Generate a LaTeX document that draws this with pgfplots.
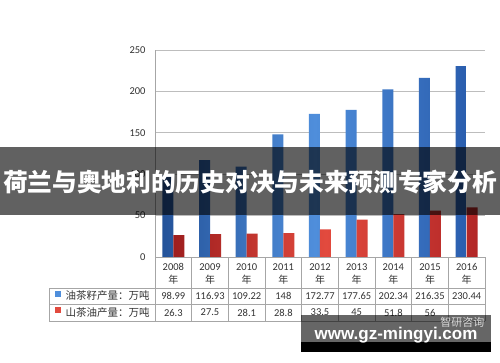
\documentclass[border=0pt]{standalone}
\usepackage{fontspec}
\setmainfont{Carlito}
\newfontfamily\cjk{Noto Sans CJK SC}
\newfontfamily\wm{Liberation Sans}
\usepackage{pgfplots}
\pgfplotsset{compat=1.18}
\definecolor{tx}{HTML}{333333}
\definecolor{gridc}{HTML}{BDBDBD}
\definecolor{tabc}{HTML}{A6A6A6}
\definecolor{bL}{HTML}{24539A}
\definecolor{bM}{HTML}{4F8EDB}
\definecolor{bR}{HTML}{2A5EAE}
\definecolor{rL}{HTML}{9E1E1E}
\definecolor{rM}{HTML}{E24A3E}
\definecolor{rR}{HTML}{B22626}
\begin{document}
\begin{tikzpicture}
\useasboundingbox (0pt,0pt) rectangle (500pt,362pt);
\fill[white] (0pt,0pt) rectangle (500pt,362pt);
\begin{axis}[
  at={(155pt,105pt)}, anchor=south west,
  scale only axis, width=330pt, height=207pt,
  xmin=-0.5, xmax=8.5, ymin=0, ymax=250,
  ytick={0,50,100,150,200,250},
  axis x line=none,
  axis y line*=left,
  y axis line style={draw=tabc, line width=0.8pt},
  ymajorgrids, grid style={draw=gridc, line width=0.8pt},
  major tick length=0pt,
  /pgf/number format/assume math mode=true,
  yticklabel style={font=\fontsize{10.5}{12}\selectfont, text=tx, xshift=-6pt},
  clip=false,
]
\addplot[ybar, bar width=11pt, bar shift=-5.5pt, draw=none,
  left color=bL, right color=bR, middle color=bM]
  coordinates {(0,98.99) (1,116.93) (2,109.22) (3,148) (4,172.77) (5,177.65) (6,202.34) (7,216.35) (8,230.44)};
\addplot[ybar, bar width=11pt, bar shift=5.5pt, draw=none,
  left color=rL, right color=rR, middle color=rM]
  coordinates {(0,26.3) (1,27.5) (2,28.1) (3,28.8) (4,33.5) (5,45) (6,51.8) (7,56) (8,60)};
\end{axis}
% data table
\begin{scope}[draw=tabc, line width=0.7pt]
  \foreach \i in {0,...,9} {
    \draw ({155pt+\i*36.667pt},105pt) -- ({155pt+\i*36.667pt},41pt);
  }
  \draw (49pt,74pt) -- (485pt,74pt);
  \draw (49pt,58pt) -- (485pt,58pt);
  \draw (49pt,41pt) -- (485pt,41pt);
  \draw (49pt,74pt) -- (49pt,41pt);
  \draw (155pt,105pt) -- (485pt,105pt);
\end{scope}
\foreach \i/\y/\a/\b in {0/2008/98.99/26.3, 1/2009/116.93/27.5, 2/2010/109.22/28.1, 3/2011/148/28.8, 4/2012/172.77/33.5, 5/2013/177.65/45, 6/2014/202.34/51.8, 7/2015/216.35/56, 8/2016/230.44/} {
  \pgfmathsetmacro\cx{155+(\i+0.5)*36.667}
  \node[text=tx, font=\fontsize{10.5}{12}\selectfont] at (\cx pt,95pt) {\y};
  \node[text=tx, font=\fontsize{10}{12}\selectfont\cjk] at (\cx pt,82pt) {年};
  \node[text=tx, font=\fontsize{10.5}{12}\selectfont] at (\cx pt,66pt) {\a};
  \node[text=tx, font=\fontsize{10.5}{12}\selectfont] at (\cx pt,49.5pt) {\b};
}
\fill[bM] (55pt,65pt) rectangle (61pt,71pt);
\fill[rM] (55pt,49pt) rectangle (61pt,55pt);
\node[anchor=west, text=tx, font=\fontsize{10.5}{12}\selectfont\cjk] at (62pt,66pt) {油茶籽产量：万吨};
\node[anchor=west, text=tx, font=\fontsize{10.5}{12}\selectfont\cjk] at (62pt,49.5pt) {山茶油产量：万吨};
% banner overlay
\fill[black, opacity=0.62] (0pt,147pt) rectangle (500pt,215pt);
\node[text=white, font=\fontsize{24.7}{26}\selectfont\cjk\bfseries] at (250pt,180pt) {荷兰与奥地利的历史对决与未来预测专家分析};
% watermark
\fill[black, opacity=0.6] (301pt,20pt) rectangle (491pt,47pt);
\fill[black] (301pt,10pt) rectangle (491pt,20pt);
\node[text=white!70!gray, font=\fontsize{11}{12}\selectfont\cjk, anchor=east] at (488pt,40pt) {智研咨询};
\node[text=white, font=\fontsize{17}{18}\selectfont\wm\bfseries, anchor=base] at (396pt,23pt) {www.gz-mingyi.com};
\end{tikzpicture}
\end{document}
